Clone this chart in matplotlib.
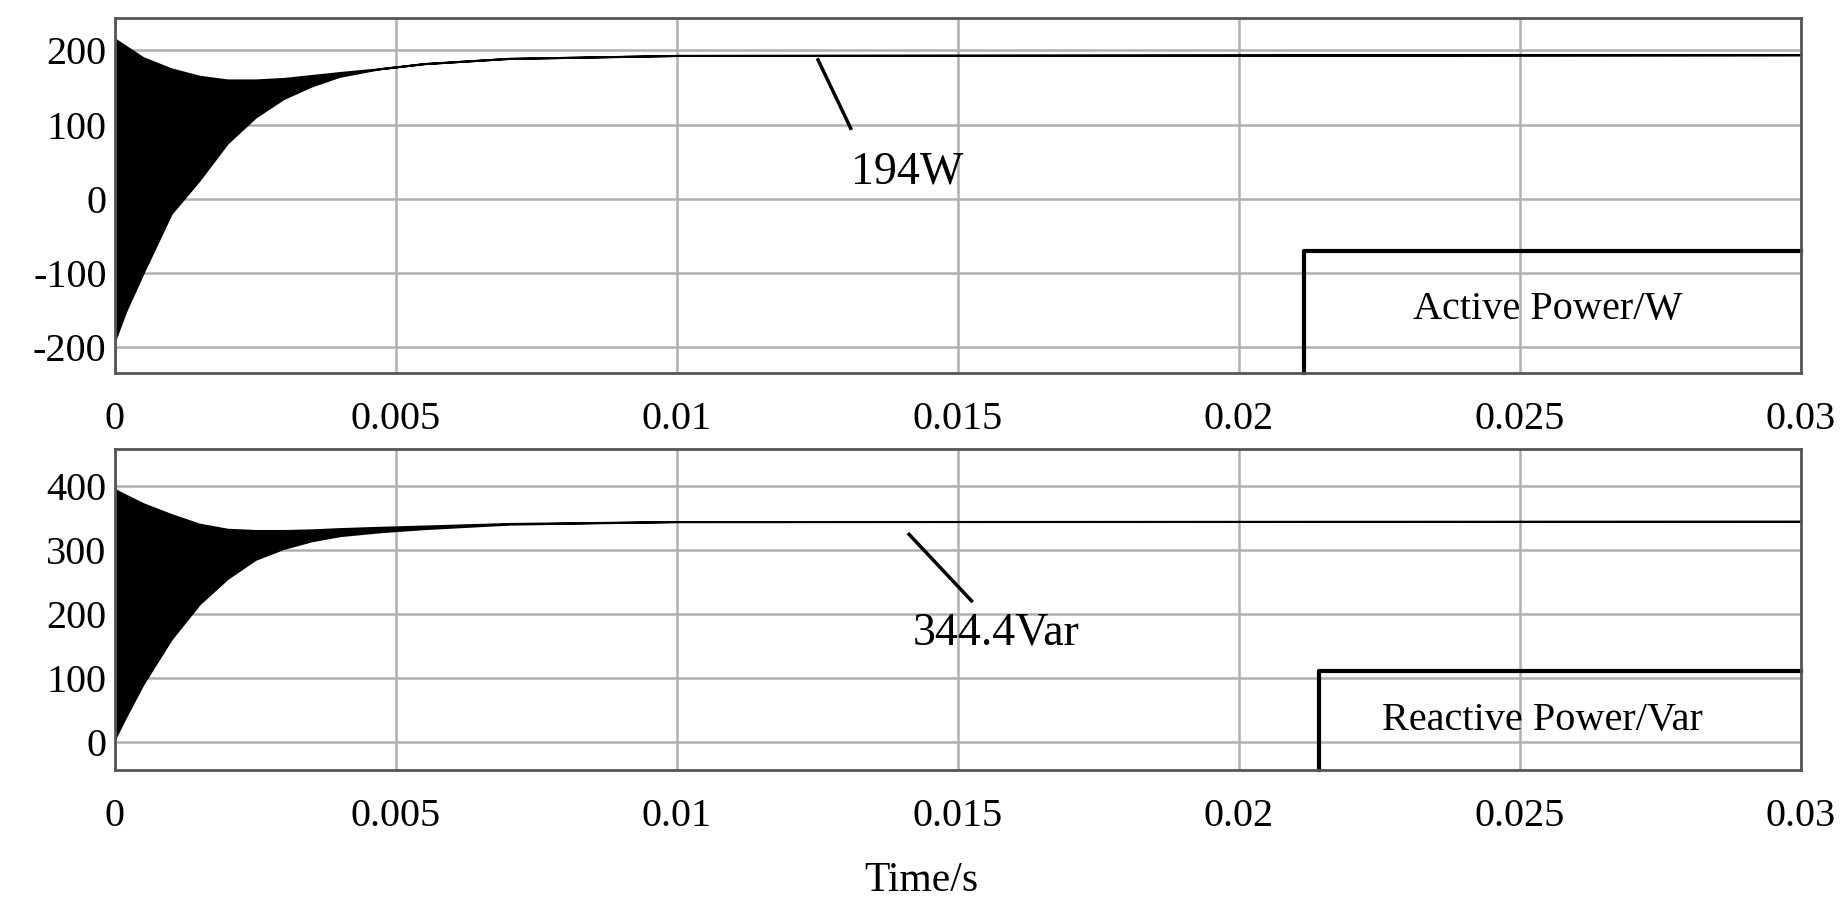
import matplotlib
matplotlib.use("Agg")
import matplotlib.pyplot as plt
import numpy as np

plt.rcParams['font.family'] = ['Liberation Serif', 'DejaVu Serif']
plt.rcParams['axes.unicode_minus'] = False

t_env = [0, 0.0002, 0.0005, 0.001, 0.0015, 0.002, 0.0025, 0.003, 0.0035, 0.004, 0.0047, 0.0055, 0.007, 0.01, 0.03]
p_upper = [215, 205, 190, 175, 165, 160, 160, 162, 166, 170, 175, 182, 189, 193, 194]
p_lower = [-190, -150, -100, -20, 25, 75, 110, 135, 152, 165, 175, 182, 189, 193, 194]
q_upper = [394, 385, 372, 355, 340, 332, 330, 330, 331, 333, 335, 337, 341, 344, 344.4]
q_lower = [5, 40, 90, 160, 215, 255, 285, 302, 314, 322, 328, 333, 340, 344, 344.4]

xticks = [0, 0.005, 0.01, 0.015, 0.02, 0.025, 0.03]
xticklabels = ['0', '0.005', '0.01', '0.015', '0.02', '0.025', '0.03']
p_yticks = [-200, -100, 0, 100, 200]
q_yticks = [0, 100, 200, 300, 400]

fig = plt.figure(figsize=(18.42, 9.17), dpi=100)
ax1 = fig.add_axes([0.0624, 0.593, 0.9154, 0.387])
ax2 = fig.add_axes([0.0624, 0.160, 0.9154, 0.350])

def style(ax, yt, ylim):
    ax.set_xlim(0, 0.03)
    ax.set_ylim(*ylim)
    ax.set_xticks(xticks)
    ax.set_xticklabels(xticklabels)
    ax.set_yticks(yt)
    ax.grid(True, color='#b0b0b0', linewidth=1.8)
    ax.set_axisbelow(True)
    ax.tick_params(labelsize=29, length=0, pad=6)
    ax.tick_params(axis='x', pad=20)
    for s in ax.spines.values():
        s.set_color('#555555'); s.set_linewidth(2)

style(ax1, p_yticks, (-235, 243))
style(ax2, q_yticks, (-45, 457))

ax1.fill_between(t_env, p_lower, p_upper, color='black', lw=1.5, edgecolor='black')
ax2.fill_between(t_env, q_lower, q_upper, color='black', lw=1.5, edgecolor='black')

ax1.plot([0.01251, 0.01309], [187, 95], color='black', lw=2.5)
ax1.text(0.01309, 36, '194W', fontsize=33, va='center', ha='left')
ax2.plot([0.01413, 0.01524], [324, 220], color='black', lw=2.5)
ax2.text(0.0142, 169, '344.4Var', fontsize=33, va='center', ha='left')

ax1.plot([0.02116, 0.02116, 0.03], [-235, -70, -70], color='black', lw=3, clip_on=False)
ax1.text(0.0231, -149, 'Active Power/W', fontsize=29, va='center', ha='left')
ax2.plot([0.02143, 0.02143, 0.03], [-45, 111, 111], color='black', lw=3, clip_on=False)
ax2.text(0.02254, 33, 'Reactive Power/Var', fontsize=29, va='center', ha='left')

fig.text(0.5, 0.04, 'Time/s', fontsize=30, ha='center', va='center')
fig.savefig('out.png', dpi=100)
